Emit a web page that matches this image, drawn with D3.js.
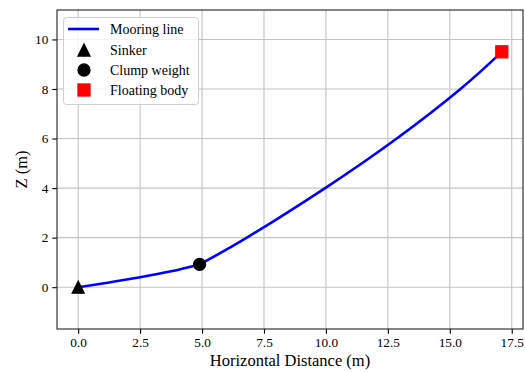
<!DOCTYPE html>
<html><head><meta charset="utf-8">
<script src="https://cdn.jsdelivr.net/npm/d3@7"></script>
<style>body{margin:0;background:#fff}svg{display:block}svg text{font-family:'Liberation Serif','Times New Roman',Times,'DejaVu Serif',serif !important;fill:#000}</style>
</head><body><svg id="c" width="525" height="372"></svg>
<script>
// Mooring line: segment from sinker to clump weight, then clump weight to floating body
const seg1X = [0, 1.25, 2.5, 3.75, 4.9];
const seg1Z = [0, 0.19, 0.40, 0.64, 0.92];
const seg2X = [4.9, 6.81, 10, 12.86, 15.43, 17.1];
const seg2Z = [0.92, 2.0, 4.02, 6.0, 8.0, 9.5];
const sinker = [0, 0];
const clump = [4.9, 0.92];
const floatBody = [17.1, 9.5];
const xTicks = [0, 2.5, 5, 7.5, 10, 12.5, 15, 17.5];
const yTicks = [0, 2, 4, 6, 8, 10];
const legendLabels = ["Mooring line", "Sinker", "Clump weight", "Floating body"];

const FONT = "'Liberation Serif','Times New Roman',Times,'DejaVu Serif',serif";
const W = 525, H = 372;
const m = {l: 57, r: 2, t: 10, b: 43};
const pw = W - m.l - m.r, ph = H - m.t - m.b;
const svg = d3.select("#c");
// equal aspect, datalim adjustable
const xmin = 0, xmaxD = 17.1, pad = (xmaxD - xmin) * 0.05;
const x = d3.scaleLinear().domain([xmin - pad, xmaxD + pad]).range([m.l, m.l + pw]);
const k = pw / (xmaxD - xmin + 2 * pad);
const yc = (0 + 9.5) / 2, yh = ph / k / 2;
const y = d3.scaleLinear().domain([yc - yh, yc + yh]).range([m.t + ph, m.t]);

const g = svg.append("g");
g.selectAll(".gx").data(xTicks).join("line").attr("x1", d => x(d)).attr("x2", d => x(d))
  .attr("y1", m.t).attr("y2", m.t + ph).attr("stroke", "#c4c4c4").attr("stroke-width", 1.1);
g.selectAll(".gy").data(yTicks).join("line").attr("y1", d => y(d)).attr("y2", d => y(d))
  .attr("x1", m.l).attr("x2", m.l + pw).attr("stroke", "#c4c4c4").attr("stroke-width", 1.1);

const ax = svg.append("g").attr("transform", `translate(0,${m.t + ph})`)
  .call(d3.axisBottom(x).tickValues(xTicks).tickFormat(d3.format(".1f")).tickSize(4.7).tickPadding(4));
const ay = svg.append("g").attr("transform", `translate(${m.l},0)`)
  .call(d3.axisLeft(y).tickValues(yTicks).tickFormat(d3.format("d")).tickSize(4.7).tickPadding(4));
[ax, ay].forEach(a => {
  a.attr("font-family", FONT).attr("font-size", 13.3);
  a.select(".domain").remove();
  a.selectAll("line").attr("stroke", "#000").attr("stroke-width", 1.1);
  a.selectAll("text").attr("fill", "#000");
});
svg.append("rect").attr("x", m.l).attr("y", m.t).attr("width", pw).attr("height", ph)
  .attr("fill", "none").attr("stroke", "#222").attr("stroke-width", 1.1);

const line = d3.line().x(d => x(d[0])).y(d => y(d[1])).curve(d3.curveNatural);
svg.append("clipPath").attr("id", "cp").append("rect").attr("x", m.l).attr("y", m.t).attr("width", pw).attr("height", ph);
const lg = svg.append("g").attr("clip-path", "url(#cp)");
[[seg1X, seg1Z], [seg2X, seg2Z]].forEach(([xs, zs]) => {
  lg.append("path").datum(xs.map((v, i) => [v, zs[i]])).attr("d", line)
    .attr("fill", "none").attr("stroke", "#0000ff").attr("stroke-width", 2.6).attr("stroke-linejoin", "round");
});

const ms = 12;
function tri(cx, cy) { const s = ms / 2; return `M${cx},${cy - s}L${cx - s},${cy + s}L${cx + s},${cy + s}Z`; }
function marker(sel, type, cx, cy) {
  if (type === "tri") sel.append("path").attr("d", tri(cx, cy)).attr("fill", "#000").attr("stroke", "#000").attr("stroke-width", 1.3);
  else if (type === "circ") sel.append("circle").attr("cx", cx).attr("cy", cy).attr("r", ms / 2).attr("fill", "#000").attr("stroke", "#000").attr("stroke-width", 1.3);
  else sel.append("rect").attr("x", cx - ms / 2).attr("y", cy - ms / 2).attr("width", ms).attr("height", ms).attr("fill", "#ff0000").attr("stroke", "#ff0000").attr("stroke-width", 1.3);
}
marker(lg, "tri", x(sinker[0]), y(sinker[1]));
marker(lg, "circ", x(clump[0]), y(clump[1]));
marker(lg, "sq", x(floatBody[0]), y(floatBody[1]));

svg.append("text").attr("x", m.l + pw / 2).attr("y", 366).attr("text-anchor", "middle")
  .attr("font-family", FONT).attr("font-size", 16.5).text("Horizontal Distance (m)");
svg.append("text").attr("transform", `translate(27,${m.t + ph / 2}) rotate(-90)`).attr("text-anchor", "middle")
  .attr("font-family", FONT).attr("font-size", 16.5).text("Z (m)");

const L = svg.append("g");
L.append("rect").attr("x", 63.5).attr("y", 17.5).attr("width", 135).attr("height", 87).attr("rx", 3)
  .attr("fill", "#fff").attr("fill-opacity", 0.8).attr("stroke", "#d0d0d0").attr("stroke-width", 1);
const rowY = [29, 50, 70, 90];
L.append("line").attr("x1", 68).attr("x2", 99).attr("y1", rowY[0]).attr("y2", rowY[0]).attr("stroke", "#0000ff").attr("stroke-width", 2.6);
marker(L, "tri", 84, rowY[1]);
marker(L, "circ", 84, rowY[2]);
marker(L, "sq", 84, rowY[3]);
L.selectAll(".lt").data(legendLabels).join("text").attr("x", 110).attr("y", (d, i) => rowY[i] + 4.8)
  .attr("font-family", FONT).attr("font-size", 14).text(d => d);
</script></body></html>
